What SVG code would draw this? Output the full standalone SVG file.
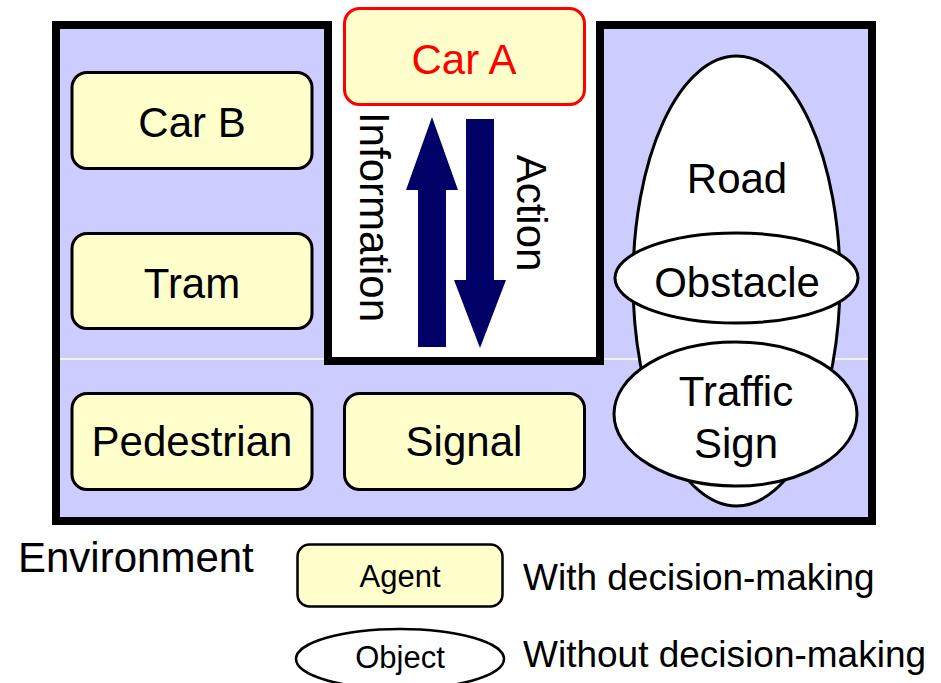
<svg xmlns="http://www.w3.org/2000/svg" width="941" height="683" viewBox="0 0 941 683">
  <style>
    text { font-family: "Liberation Sans", Arial, sans-serif; fill: #000; }
    .big { font-size: 42px; text-anchor: middle; }
    .agent { fill: #FFFFCC; stroke: #000; stroke-width: 3; }
    .obj { fill: #FFFFFF; stroke: #000; stroke-width: 3; }
    .arrow { fill: #000066; }
  </style>
  <rect width="941" height="683" fill="#FFFFFF"/>

  <g id="environment">
    <path d="M56,25 H328 V361 H600 V25 H872 V521 H56 Z" fill="#CCCCFF"/>
    <line x1="60" y1="359" x2="325" y2="359" stroke="#FFFFFF" stroke-width="1.5"/>
    <line x1="604" y1="359" x2="868" y2="359" stroke="#FFFFFF" stroke-width="1.5"/>
    <path d="M56,25 H328 V361 H600 V25 H872 V521 H56 Z" fill="none" stroke="#000" stroke-width="8" stroke-linejoin="miter"/>
  </g>

  <g id="car-b">
    <rect class="agent" x="72" y="72.5" width="240" height="96" rx="15"/>
    <text class="big" x="192" y="137">Car B</text>
  </g>
  <g id="tram">
    <rect class="agent" x="72" y="233.5" width="240" height="95" rx="15"/>
    <text class="big" x="192" y="298">Tram</text>
  </g>
  <g id="pedestrian">
    <rect class="agent" x="72" y="393.5" width="240" height="96" rx="15"/>
    <text class="big" x="192" y="456">Pedestrian</text>
  </g>
  <g id="signal">
    <rect class="agent" x="344.5" y="393.5" width="240" height="96" rx="15"/>
    <text class="big" x="464" y="456">Signal</text>
  </g>
  <g id="car-a">
    <rect x="344.5" y="8.5" width="240" height="96" rx="15" fill="#FFFFCC" stroke="#FF0000" stroke-width="3"/>
    <text class="big" x="464" y="74" style="fill:#FF0000">Car A</text>
  </g>

  <g id="road">
    <ellipse class="obj" cx="736.5" cy="281" rx="103.5" ry="225"/>
    <text class="big" x="737" y="193">Road</text>
  </g>
  <g id="obstacle">
    <ellipse class="obj" cx="736.5" cy="278" rx="121.5" ry="45"/>
    <text class="big" x="737" y="297">Obstacle</text>
  </g>
  <g id="traffic-sign">
    <ellipse class="obj" cx="735.5" cy="414" rx="121.5" ry="72"/>
    <text class="big" x="736" y="406">Traffic</text>
    <text class="big" x="736" y="458">Sign</text>
  </g>

  <g id="connectors">
    <g id="information">
      <polygon class="arrow" points="418,347 418,190 406,190 432,117 458,190 446,190 446,347"/>
      <text class="big" transform="translate(360,217) rotate(90)">Information</text>
    </g>
    <g id="action">
      <polygon class="arrow" points="466,119 494,119 494,280 506,280 480,348 454,280 466,280"/>
      <text class="big" transform="translate(517,213) rotate(90)">Action</text>
    </g>
  </g>

  <g id="legend">
    <text x="18" y="572" style="font-size:42px">Environment</text>
    <g id="legend-agent">
      <rect x="297.5" y="544.5" width="205" height="62" rx="12" fill="#FFFFCC" stroke="#000" stroke-width="2.5"/>
      <text x="400" y="587" style="font-size:31px;text-anchor:middle">Agent</text>
      <text x="523" y="590" style="font-size:37px">With decision-making</text>
    </g>
    <g id="legend-object">
      <ellipse cx="400" cy="659" rx="104" ry="30" fill="#FFFFFF" stroke="#000" stroke-width="2.5"/>
      <text x="400" y="668" style="font-size:31px;text-anchor:middle">Object</text>
      <text x="523" y="667" style="font-size:37px">Without decision-making</text>
    </g>
  </g>
</svg>
